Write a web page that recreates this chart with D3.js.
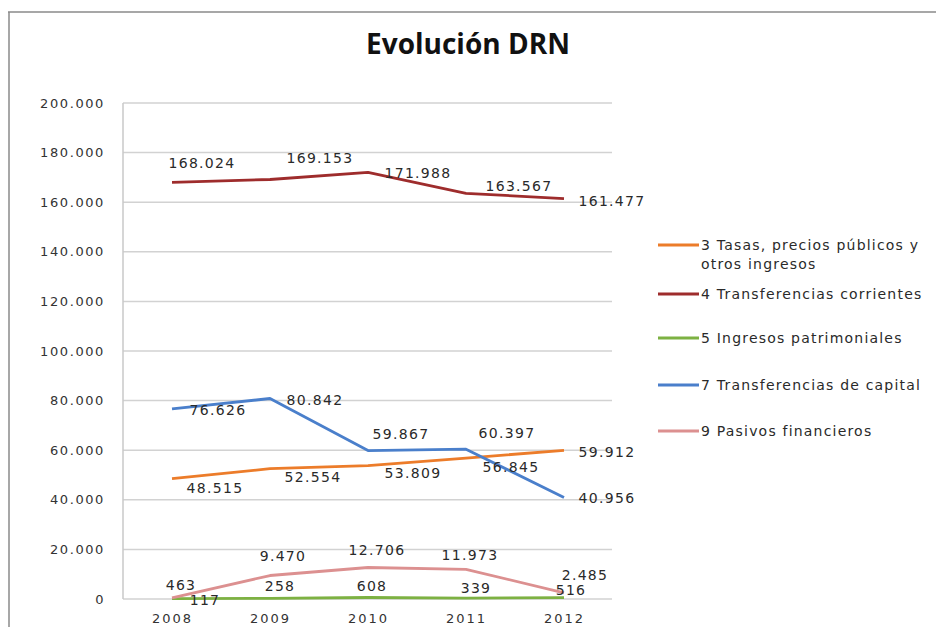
<!DOCTYPE html>
<html>
<head>
<meta charset="utf-8">
<script src="https://cdn.jsdelivr.net/npm/d3@7"></script>
<style>
  body { margin: 0; background: #fff; }
  svg { display: block; }
</style>
</head>
<body>
<svg width="936" height="627"></svg>
<script>
var years = ["2008", "2009", "2010", "2011", "2012"];
var yTicks = [0, 20000, 40000, 60000, 80000, 100000, 120000, 140000, 160000, 180000, 200000];

var seriesNames = [
  "3 Tasas, precios públicos y otros ingresos",
  "4 Transferencias corrientes",
  "5 Ingresos patrimoniales",
  "7 Transferencias de capital",
  "9 Pasivos financieros"
];
var tasas      = [48515, 52554, 53809, 56845, 59912];
var corrientes = [168024, 169153, 171988, 163567, 161477];
var patrimon   = [117, 258, 608, 339, 516];
var capital    = [76626, 80842, 59867, 60397, 40956];
var pasivos    = [463, 9470, 12706, 11973, 2485];

var colors = ["#ec7c2a", "#9e2c2c", "#7db142", "#4a7fcb", "#dc9090"];

// label offsets (dx, dy) from each point, per series
var labelOffsets = [
  [[43, 14], [43, 13], [45, 12], [45, 14], [43, 7]],
  [[30, -14], [50, -17], [50, 6], [53, -2], [48, 7]],
  [[33, 6], [10, -7], [4, -6], [10, -5], [7, -3]],
  [[46, 6], [45, 6], [33, -12], [41, -11], [43, 6]],
  [[9, -8], [13, -15], [9, -12], [4, -9], [21, -13]]
];

var allSeries = [tasas, corrientes, patrimon, capital, pasivos];

var svg = d3.select("svg");
var fmt = function(v) { return d3.format(",")(v).replace(/,/g, "."); };

// outer frame
svg.append("line").attr("x1", 8).attr("y1", 12).attr("x2", 936).attr("y2", 12).attr("stroke", "#8a8a8a").attr("stroke-width", 1.5);
svg.append("line").attr("x1", 9).attr("y1", 12).attr("x2", 9).attr("y2", 627).attr("stroke", "#8a8a8a").attr("stroke-width", 1.5);

svg.append("text")
  .attr("x", 468).attr("y", 54)
  .attr("text-anchor", "middle")
  .attr("font-family", "Open Sans, sans-serif")
  .attr("font-weight", "bold")
  .attr("font-size", 28)
  .attr("fill", "#111")
  .text("Evolución DRN");

var x = d3.scalePoint().domain(years).range([172, 564]);
var y = d3.scaleLinear().domain([0, 200000]).range([599, 103]);

// gridlines
svg.append("g").selectAll("line").data(yTicks).enter().append("line")
  .attr("x1", 123).attr("x2", 612)
  .attr("y1", d => y(d)).attr("y2", d => y(d))
  .attr("stroke", "#d2d2d2").attr("stroke-width", 1.5);
svg.append("line").attr("x1", 123).attr("x2", 123).attr("y1", 103).attr("y2", 599)
  .attr("stroke", "#c8c8c8").attr("stroke-width", 1.5);

// y axis labels
var yAxis = d3.axisLeft(y).tickValues(yTicks).tickSize(0).tickPadding(18).tickFormat(fmt);
var gy = svg.append("g").attr("transform", "translate(123,0)").call(yAxis);
gy.select(".domain").remove();
gy.selectAll("text").attr("font-family", "DejaVu Sans, sans-serif").attr("font-size", 13)
  .attr("letter-spacing", 1.6).attr("fill", "#333");

// x axis labels
var xAxis = d3.axisBottom(x).tickSize(0).tickPadding(15);
var gx = svg.append("g").attr("transform", "translate(0,599)").call(xAxis);
gx.select(".domain").remove();
gx.selectAll("text").attr("font-family", "DejaVu Sans, sans-serif").attr("font-size", 13)
  .attr("letter-spacing", 2).attr("fill", "#333");

var line = d3.line().x((d, i) => x(years[i])).y(d => y(d));

// draw in order so red / blue sit on top
var drawOrder = [2, 4, 0, 3, 1];
drawOrder.forEach(function(k) {
  svg.append("path")
    .attr("d", line(allSeries[k]))
    .attr("fill", "none")
    .attr("stroke", colors[k])
    .attr("stroke-width", 2.8)
    .attr("stroke-linejoin", "round");
});

allSeries.forEach(function(vals, k) {
  svg.append("g").selectAll("text").data(vals).enter().append("text")
    .attr("x", (d, i) => x(years[i]) + labelOffsets[k][i][0])
    .attr("y", (d, i) => y(d) + labelOffsets[k][i][1])
    .attr("text-anchor", "middle")
    .attr("font-family", "DejaVu Sans, sans-serif")
    .attr("font-size", 14)
    .attr("letter-spacing", 1.3)
    .attr("fill", "#2a2a2a")
    .text(fmt);
});

// legend
var legendY = [245, 294, 338, 385, 431];
var legendLines = [
  ["3 Tasas, precios públicos y", "otros ingresos"],
  ["4 Transferencias corrientes"],
  ["5 Ingresos patrimoniales"],
  ["7 Transferencias de capital"],
  ["9 Pasivos financieros"]
];
var lg = svg.append("g");
seriesNames.forEach(function(name, k) {
  lg.append("line").attr("x1", 658).attr("x2", 699)
    .attr("y1", legendY[k]).attr("y2", legendY[k])
    .attr("stroke", colors[k]).attr("stroke-width", 2.8);
  legendLines[k].forEach(function(t, j) {
    lg.append("text")
      .attr("x", 701).attr("y", legendY[k] + 5 + j * 19)
      .attr("font-family", "DejaVu Sans, sans-serif")
      .attr("font-size", 14)
      .attr("letter-spacing", 1.2)
      .attr("fill", "#2a2a2a")
      .text(t);
  });
});
</script>
</body>
</html>
